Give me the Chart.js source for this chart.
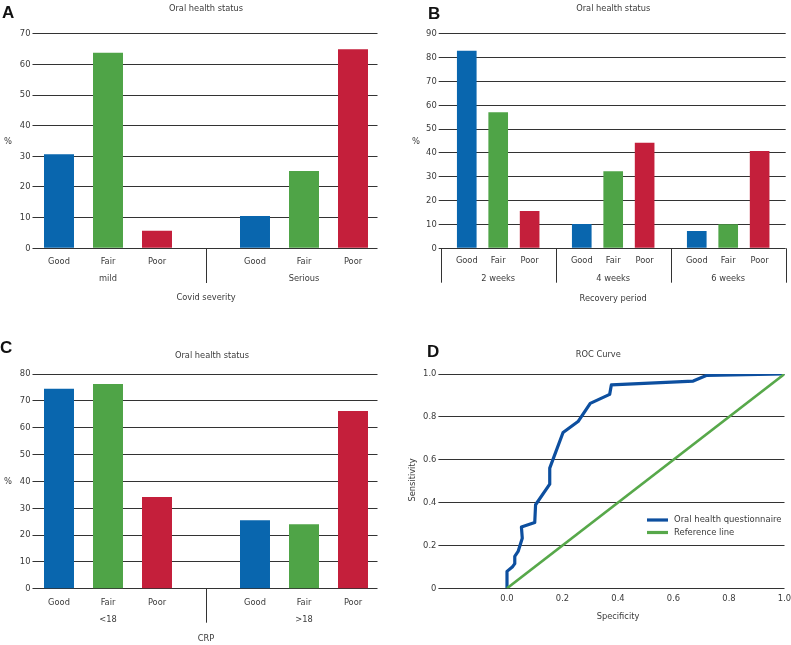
<!DOCTYPE html>
<html><head><meta charset="utf-8">
<script src="https://cdn.jsdelivr.net/npm/chart.js@4/dist/chart.umd.min.js"></script>
<style>
html,body{margin:0;padding:0;background:#fff}
body{width:791px;height:645px;position:relative;overflow:hidden}
.p{position:absolute}
.p canvas{display:block}
.lt{position:absolute;font:bold 17px 'Liberation Sans',Arial,sans-serif;color:#111;line-height:17px}
</style></head><body>
<div class="p" style="left:0;top:0"><canvas id="cA" width="395" height="320"></canvas></div>
<div class="p" style="left:400px;top:0"><canvas id="cB" width="391" height="320"></canvas></div>
<div class="p" style="left:0;top:320px"><canvas id="cC" width="395" height="325"></canvas></div>
<div class="p" style="left:400px;top:320px"><canvas id="cD" width="391" height="325"></canvas></div>
<div class="lt" style="left:2px;top:4px">A</div>
<div class="lt" style="left:428px;top:5px">B</div>
<div class="lt" style="left:0px;top:339px">C</div>
<div class="lt" style="left:427px;top:343px">D</div>
<script>
// ---------- DATA ----------
const statusLabels = ['Good', 'Fair', 'Poor'];

const severityGroups = ['mild', 'Serious'];
const severityGood = [30.7, 10.5];
const severityFair = [63.8, 25.2];
const severityPoor = [5.7, 64.9];

const recoveryGroups = ['2 weeks', '4 weeks', '6 weeks'];
const recoveryGood = [82.9, 10.2, 7.3];
const recoveryFair = [57.1, 32.3, 10.1];
const recoveryPoor = [15.6, 44.3, 40.8];

const crpGroups = ['<18', '>18'];
const crpGood = [74.5, 25.5];
const crpFair = [76.3, 24.0];
const crpPoor = [34.2, 66.2];

const rocSpecificity = [0, 0, 0.019, 0.028, 0.028, 0.040, 0.055, 0.052, 0.100, 0.103, 0.154, 0.154, 0.202, 0.256, 0.300, 0.370, 0.376, 0.671, 0.720, 1.0];
const rocSensitivity = [0, 0.079, 0.099, 0.115, 0.149, 0.172, 0.234, 0.286, 0.307, 0.390, 0.486, 0.561, 0.727, 0.778, 0.863, 0.905, 0.949, 0.967, 0.994, 1.0];
const refSpecificity = [0, 1];
const refSensitivity = [0, 1];
const rocXTicks = [0, 0.2, 0.4, 0.6, 0.8, 1.0];

// ---------- STYLE ----------
const FONT = "'DejaVu Sans Condensed','Liberation Sans',sans-serif";
const TXT = '#3a3a3a';
const GRID = '#333333';
const BLUE = '#0966ae', GREEN = '#4fa447', RED = '#c41f3b';
const statusColors = [BLUE, GREEN, RED];
const ROCBLUE = '#0d4f9f', ROCGREEN = '#57a84a';
const FS_TICK = 9.3, FS_LBL = 9.2, FS_TITLE = 9.2, FS_LEG = 9.4;

Chart.defaults.font.family = FONT;
Chart.defaults.font.size = FS_TICK;
Chart.defaults.color = TXT;
Chart.defaults.animation = false;
Chart.defaults.plugins.legend.display = false;
Chart.defaults.plugins.tooltip.enabled = false;

const extras = {
  id: 'extras',
  afterDraw(chart, args, o) {
    const ctx = chart.ctx, ca = chart.chartArea;
    ctx.save();
    ctx.strokeStyle = GRID; ctx.lineWidth = 1;
    const xs = chart.scales.x;
    (o.vlines || []).forEach(v => {
      let px;
      if (v.edge === 'left') px = ca.left; else if (v.edge === 'right') px = ca.right;
      else if (v.between !== undefined) px = (xs.getPixelForValue(v.between) + xs.getPixelForValue(v.between + 1)) / 2;
      else px = xs.getPixelForValue(v.at);
      px = Math.round(px) + 0.5;
      ctx.beginPath(); ctx.moveTo(px, ca.bottom); ctx.lineTo(px, v.y2); ctx.stroke();
    });
    ctx.fillStyle = TXT;
    ctx.textBaseline = 'middle'; ctx.textAlign = 'center';
    if (o.barLabelsY) {
      ctx.font = FS_LBL + 'px ' + FONT;
      chart.data.datasets.forEach((ds, di) => {
        chart.getDatasetMeta(di).data.forEach(el => ctx.fillText(ds.label, el.x, o.barLabelsY));
      });
    }
    (o.texts || []).forEach(t => {
      ctx.save();
      ctx.font = (t.size || FS_TITLE) + 'px ' + FONT;
      const x = t.x === undefined ? (ca.left + ca.right) / 2 : t.x;
      ctx.translate(x, t.y);
      if (t.rot) ctx.rotate(t.rot);
      ctx.textAlign = t.align || 'center';
      ctx.fillText(t.text, 0, 0);
      ctx.restore();
    });
    if (o.legend) {
      const L = o.legend;
      ctx.font = FS_LEG + 'px ' + FONT; ctx.textAlign = 'left';
      L.items.forEach((di, k) => {
        const ds = chart.data.datasets[di];
        const y = L.y + k * L.gap;
        ctx.strokeStyle = ds.borderColor; ctx.lineWidth = 3.2;
        ctx.beginPath(); ctx.moveTo(L.x, y); ctx.lineTo(L.x + 21, y); ctx.stroke();
        ctx.fillText(ds.label, L.x + 27, y);
      });
    }
    ctx.restore();
  }
};
Chart.register(extras);

function fixY(w) { return s => { s.width = w; s.paddingTop = 0; s.paddingBottom = 0; }; }
function fixX(h) { return s => { s.height = h; s.paddingLeft = 0; s.paddingRight = 0; }; }

function yAxis(max, step, w) {
  return {
    min: 0, max: max,
    ticks: { stepSize: step, padding: 2, font: { size: FS_TICK } },
    grid: { color: GRID, lineWidth: 1, tickLength: 2, drawTicks: true },
    border: { display: false },
    afterFit: fixY(w)
  };
}

// slot layout: Good Fair Poor | gap | Good Fair Poor
function slotLabels(groups) {
  const out = [];
  groups.forEach((g, gi) => {
    if (gi > 0) out.push('');
    statusLabels.forEach((s, si) => out.push([s, si === 1 ? g : '']));
  });
  return out;
}
function slotData(vals, si, nGroups) {
  const out = new Array(nGroups * 4 - 1).fill(null);
  vals.forEach((v, gi) => { out[gi * 4 + si] = v; });
  return out;
}

function slotChart(id, W, H, box, groups, series, max, texts, dividerY) {
  const labels = slotLabels(groups);
  new Chart(document.getElementById(id), {
    type: 'bar',
    data: {
      labels: labels,
      datasets: series.map((vals, si) => ({
        label: statusLabels[si],
        data: slotData(vals, si, groups.length),
        backgroundColor: statusColors[si],
        grouped: false,
        categoryPercentage: 1,
        barPercentage: 0.612,
        borderWidth: 0
      }))
    },
    options: {
      responsive: false,
      layout: { padding: { left: 0, top: box.T, right: W - box.R, bottom: 0 } },
      scales: {
        x: {
          grid: { display: false, drawTicks: false },
          border: { display: false },
          ticks: { autoSkip: false, maxRotation: 0, padding: 5, font: { size: FS_LBL, lineHeight: 1.85 } },
          afterFit: fixX(H - box.B)
        },
        y: yAxis(max, 10, box.L)
      },
      plugins: {
        extras: { texts: texts, vlines: [{ at: 3, y2: dividerY }] }
      }
    }
  });
}

// ---------- A ----------
slotChart('cA', 395, 320, { L: 34.5, R: 377.5, T: 33.7, B: 248.3 }, severityGroups,
  [severityGood, severityFair, severityPoor], 70,
  [
    { text: 'Oral health status', y: 9 },
    { text: '%', x: 8, y: 142, size: FS_TICK },
    { text: 'Covid severity', y: 298 }
  ], 283);

// ---------- C ----------
slotChart('cC', 395, 325, { L: 34.5, R: 377.5, T: 54, B: 268.7 }, crpGroups,
  [crpGood, crpFair, crpPoor], 80,
  [
    { text: 'Oral health status', x: 212, y: 35.7 },
    { text: '%', x: 8, y: 161.7, size: FS_TICK },
    { text: 'CRP', y: 318.3 }
  ], 302.7);

// ---------- B ----------
(function () {
  const W = 391, H = 320, L = 40.7, R = 385.7, T = 33.7, B = 248.3;
  new Chart(document.getElementById('cB'), {
    type: 'bar',
    data: {
      labels: recoveryGroups,
      datasets: [recoveryGood, recoveryFair, recoveryPoor].map((vals, si) => ({
        label: statusLabels[si],
        data: vals,
        backgroundColor: statusColors[si],
        categoryPercentage: 0.82,
        barPercentage: 0.625,
        borderWidth: 0
      }))
    },
    options: {
      responsive: false,
      layout: { padding: { left: 0, top: T, right: W - R, bottom: 0 } },
      scales: {
        x: {
          grid: { display: false, drawTicks: false },
          border: { display: false },
          ticks: {
            autoSkip: false, maxRotation: 0, padding: 5,
            font: { size: FS_LBL, lineHeight: 1.85 },
            callback: (v, i) => ['', recoveryGroups[i]]
          },
          afterFit: fixX(H - B)
        },
        y: yAxis(90, 10, L)
      },
      plugins: {
        extras: {
          barLabelsY: 261,
          texts: [
            { text: 'Oral health status', y: 9 },
            { text: '%', x: 16, y: 142, size: FS_TICK },
            { text: 'Recovery period', y: 298.3 }
          ],
          vlines: [{ edge: 'left', y2: 282.7 }, { between: 0, y2: 282.7 }, { between: 1, y2: 282.7 }, { edge: 'right', y2: 282.7 }]
        }
      }
    }
  });
})();

// ---------- D ----------
(function () {
  const W = 391, H = 325, L = 40.4, R = 384.5, T = 54, B = 268.3;
  new Chart(document.getElementById('cD'), {
    type: 'scatter',
    data: {
      datasets: [
        {
          label: 'Oral health questionnaire',
          data: rocSpecificity.map((x, i) => ({ x: x, y: rocSensitivity[i] })),
          showLine: true, borderColor: ROCBLUE, borderWidth: 3.2, pointRadius: 0,
          borderJoinStyle: 'round', tension: 0, order: 1
        },
        {
          label: 'Reference line',
          data: refSpecificity.map((x, i) => ({ x: x, y: refSensitivity[i] })),
          showLine: true, borderColor: ROCGREEN, borderWidth: 2.6, pointRadius: 0,
          tension: 0, order: 0
        }
      ]
    },
    options: {
      responsive: false,
      layout: { padding: { left: 0, top: T, right: W - R, bottom: 0 } },
      scales: {
        x: {
          type: 'linear', min: -0.24, max: 1,
          afterBuildTicks: s => { s.ticks = rocXTicks.map(v => ({ value: v })); },
          grid: { display: false, drawTicks: false },
          border: { display: false },
          ticks: { padding: 5, font: { size: FS_TICK }, callback: v => Number(v).toFixed(1) },
          afterFit: fixX(H - B)
        },
        y: {
          min: 0, max: 1,
          ticks: { stepSize: 0.2, padding: 2, font: { size: FS_TICK }, callback: v => v === 0 ? '0' : Number(v).toFixed(1) },
          grid: { color: GRID, lineWidth: 1, tickLength: 2, drawTicks: true },
          border: { display: false },
          afterFit: fixY(L)
        }
      },
      plugins: {
        extras: {
          texts: [
            { text: 'ROC Curve', x: 198.3, y: 35 },
            { text: 'Sensitivity', x: 13, y: 160, rot: -Math.PI / 2 },
            { text: 'Specificity', x: 218, y: 296.7 }
          ],
          legend: { x: 247, y: 200, gap: 12.5, items: [0, 1] }
        }
      }
    }
  });
})();
</script>
</body></html>
